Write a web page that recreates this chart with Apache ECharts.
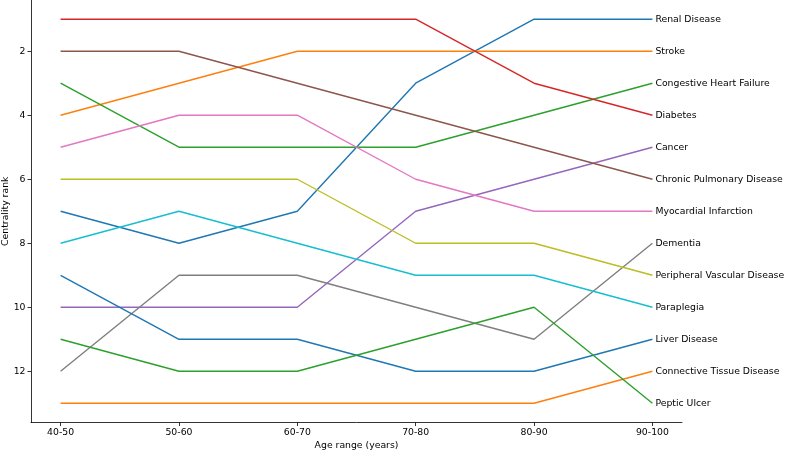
<!DOCTYPE html>
<html>
<head>
<meta charset="utf-8">
<script src="https://cdn.jsdelivr.net/npm/echarts@6/dist/echarts.min.js"></script>
<style>
  html, body { margin: 0; padding: 0; background: #fff; }
  #chart { width: 787px; height: 452px; }
</style>
</head>
<body>
<div id="chart"></div>
<script>
// age groups along the x axis
const ageRanges = ['40-50', '50-60', '60-70', '70-80', '80-90', '90-100'];
const rankTicks = [2, 4, 6, 8, 10, 12];

// centrality rank per age group
const renalDisease = [7, 8, 7, 3, 1, 1];
const stroke = [4, 3, 2, 2, 2, 2];
const congestiveHeartFailure = [3, 5, 5, 5, 4, 3];
const diabetes = [1, 1, 1, 1, 3, 4];
const cancer = [10, 10, 10, 7, 6, 5];
const chronicPulmonary = [2, 2, 3, 4, 5, 6];
const myocardialInfarction = [5, 4, 4, 6, 7, 7];
const dementia = [12, 9, 9, 10, 11, 8];
const peripheralVascular = [6, 6, 6, 8, 8, 9];
const paraplegia = [8, 7, 8, 9, 9, 10];
const liverDisease = [9, 11, 11, 12, 12, 11];
const connectiveTissue = [13, 13, 13, 13, 13, 12];
const pepticUlcer = [11, 12, 12, 11, 10, 13];

const diseases = [
    ['Renal Disease', renalDisease],
    ['Stroke', stroke],
    ['Congestive Heart Failure', congestiveHeartFailure],
    ['Diabetes', diabetes],
    ['Cancer', cancer],
    ['Chronic Pulmonary Disease', chronicPulmonary],
    ['Myocardial Infarction', myocardialInfarction],
    ['Dementia', dementia],
    ['Peripheral Vascular Disease', peripheralVascular],
    ['Paraplegia', paraplegia],
    ['Liver Disease', liverDisease],
    ['Connective Tissue Disease', connectiveTissue],
    ['Peptic Ulcer', pepticUlcer]
];

// matplotlib tab10, cycles after 10
const tab10 = ['#1f77b4', '#ff7f0e', '#2ca02c', '#d62728', '#9467bd',
               '#8c564b', '#e377c2', '#7f7f7f', '#bcbd22', '#17becf'];

let chart = echarts.init(document.getElementById('chart'), null, {renderer: 'canvas'});

let textFont = {color: '#000', fontSize: 9.3, fontFamily: 'DejaVu Sans'};

let series = diseases.map(function(d, i) {
    return {
        name: d[0],
        type: 'line',
        data: d[1].map((v, j) => [j, v]),
        showSymbol: false,
        silent: true,
        lineStyle: {width: 1.4, color: tab10[i % 10]},
        endLabel: Object.assign({
            show: true,
            formatter: '{a}',
            distance: 3
        }, textFont)
    };
});

let option = {
    animation: false,
    grid: {left: 31, top: 0, width: 651, height: 422.5, containLabel: false, outerBoundsMode: 'none'},
    xAxis: {
        type: 'value',
        min: -0.25,
        max: 5.25,
        splitLine: {show: false},
        axisLine: {onZero: false, lineStyle: {color: '#000', width: 0.8}},
        axisTick: {show: true, length: 3.5, lineStyle: {color: '#000', width: 0.8}, customValues: [0, 1, 2, 3, 4, 5]},
        axisLabel: Object.assign({
            customValues: [0, 1, 2, 3, 4, 5],
            margin: 5.5,
            formatter: v => ageRanges[Math.round(v)]
        }, textFont),
        name: 'Age range (years)',
        nameLocation: 'middle',
        nameGap: 18.5,
        nameMoveOverlap: false,
        nameTextStyle: textFont
    },
    yAxis: {
        type: 'value',
        inverse: true,
        min: 0.4,
        max: 13.6,
        splitLine: {show: false},
        axisLine: {show: true, onZero: false, lineStyle: {color: '#000', width: 0.8}},
        axisTick: {show: true, length: 3.5, lineStyle: {color: '#000', width: 0.8}, customValues: rankTicks},
        axisLabel: Object.assign({customValues: rankTicks, margin: 5.5}, textFont),
        name: 'Centrality rank',
        nameLocation: 'middle',
        nameGap: 20.5,
        nameMoveOverlap: false,
        nameTextStyle: textFont
    },
    series: series
};

chart.setOption(option);
</script>
</body>
</html>
